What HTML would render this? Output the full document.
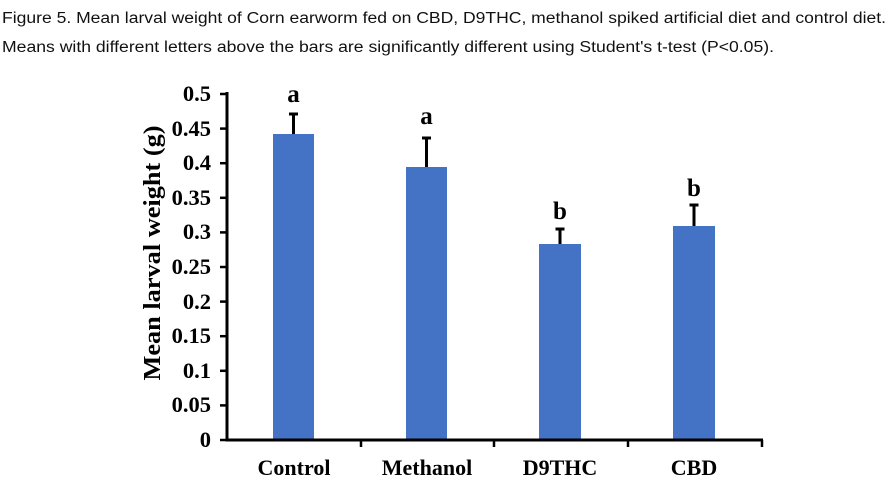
<!DOCTYPE html>
<html><head><meta charset="utf-8"><style>html,body{margin:0;padding:0;background:#fff;}svg{display:block}</style></head>
<body>
<svg width="891" height="483" xmlns="http://www.w3.org/2000/svg">
<g font-family="'Liberation Sans', sans-serif" font-size="15.5" fill="#111">
<text x="2" y="23" textLength="884" lengthAdjust="spacingAndGlyphs">Figure 5. Mean larval weight of Corn earworm fed on CBD, D9THC, methanol spiked artificial diet and control diet.</text>
<text x="2" y="52" textLength="772" lengthAdjust="spacingAndGlyphs">Means with different letters above the bars are significantly different using Student's t-test (P&lt;0.05).</text>
</g>
<g fill="#4472C4">
<rect x="273" y="134" width="41" height="306"/>
<rect x="406" y="167" width="41" height="273"/>
<rect x="539" y="244" width="42" height="196"/>
<rect x="673" y="226" width="42" height="214"/>
</g>
<g stroke="#000" stroke-width="3">
<line x1="293.5" y1="134" x2="293.5" y2="114"/><line x1="289" y1="114" x2="298" y2="114"/>
<line x1="426.5" y1="167" x2="426.5" y2="138"/><line x1="422" y1="138" x2="431" y2="138"/>
<line x1="560" y1="244" x2="560" y2="229"/><line x1="555.5" y1="229" x2="564.5" y2="229"/>
<line x1="694" y1="226" x2="694" y2="205"/><line x1="689.5" y1="205" x2="698.5" y2="205"/>
<line x1="227" y1="92" x2="227" y2="441.5"/>
<line x1="225.5" y1="440" x2="763" y2="440"/>
</g>
<g stroke="#000" stroke-width="2.5">
<line x1="220" y1="94" x2="227" y2="94"/><line x1="220" y1="128.6" x2="227" y2="128.6"/>
<line x1="220" y1="163.2" x2="227" y2="163.2"/><line x1="220" y1="197.8" x2="227" y2="197.8"/>
<line x1="220" y1="232.4" x2="227" y2="232.4"/><line x1="220" y1="267" x2="227" y2="267"/>
<line x1="220" y1="301.6" x2="227" y2="301.6"/><line x1="220" y1="336.2" x2="227" y2="336.2"/>
<line x1="220" y1="370.8" x2="227" y2="370.8"/><line x1="220" y1="405.4" x2="227" y2="405.4"/>
<line x1="220" y1="440" x2="227" y2="440"/>
<line x1="361" y1="440" x2="361" y2="447"/><line x1="494" y1="440" x2="494" y2="447"/>
<line x1="628" y1="440" x2="628" y2="447"/><line x1="762" y1="440" x2="762" y2="447"/>
</g>
<g font-family="'Liberation Serif', serif" font-weight="bold" font-size="22.5" fill="#000" text-anchor="end">
<text x="211" y="101">0.5</text><text x="211" y="136">0.45</text><text x="211" y="170">0.4</text>
<text x="211" y="205">0.35</text><text x="211" y="239">0.3</text><text x="211" y="274">0.25</text>
<text x="211" y="309">0.2</text><text x="211" y="343">0.15</text><text x="211" y="378">0.1</text>
<text x="211" y="412">0.05</text><text x="211" y="447">0</text>
</g>
<g font-family="'Liberation Serif', serif" font-weight="bold" font-size="22" fill="#000" text-anchor="middle">
<text x="294" y="475">Control</text><text x="427" y="475">Methanol</text>
<text x="560" y="475">D9THC</text><text x="694" y="475">CBD</text>
<g font-size="25">
<text x="293.5" y="102">a</text><text x="426.5" y="124">a</text>
<text x="560" y="219">b</text><text x="694" y="196">b</text>
</g>
<text transform="translate(160,253) rotate(-90)" font-size="24.5" textLength="255" lengthAdjust="spacingAndGlyphs">Mean larval weight (g)</text>
</g>
</svg>
</body></html>
